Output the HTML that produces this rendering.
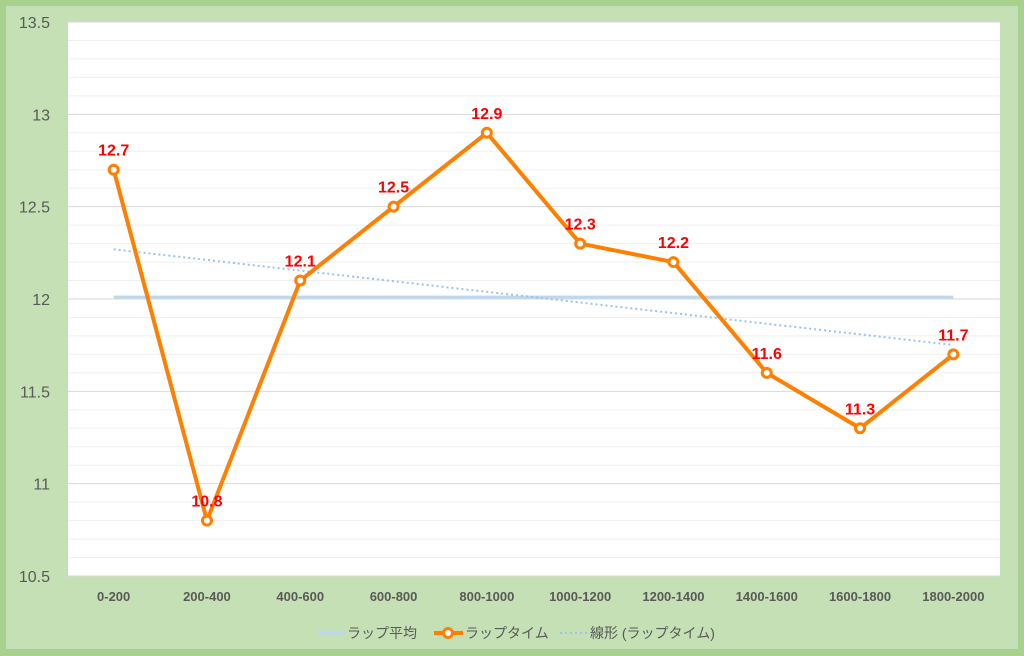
<!DOCTYPE html>
<html><head><meta charset="utf-8"><style>
html,body{margin:0;padding:0;width:1024px;height:656px;overflow:hidden;background:#a9d18e}
svg{display:block;font-family:"Liberation Sans","Noto Sans CJK JP",sans-serif}
</style></head><body>
<svg id="chart" width="1024" height="656">
<rect x="6" y="6" width="1012" height="643" fill="#c5e0b4"/>
<rect x="67" y="22" width="933" height="554" fill="#ffffff"/>
<g id="grid"></g><g id="yticks"></g><g id="xticks"></g><g id="series"></g>
<g>
<line x1="318" y1="633" x2="345" y2="633" stroke="#bdd7ee" stroke-width="3"/>
<text x="347" y="638" font-size="14" fill="#595959">ラップ平均</text>
<line x1="434" y1="633" x2="463" y2="633" stroke="#ff7f00" stroke-width="4"/>
<circle cx="448" cy="633" r="4.5" fill="#fff" stroke="#ff7f00" stroke-width="3"/>
<text x="465" y="638" font-size="14" fill="#595959">ラップタイム</text>
<line x1="560" y1="633" x2="588" y2="633" stroke="#9dc3e6" stroke-width="2" stroke-dasharray="2,3"/>
<text x="590" y="638" font-size="14" fill="#595959">線形 (ラップタイム)</text>
</g>
</svg>
<script>
const categories=["0-200","200-400","400-600","600-800","800-1000","1000-1200","1200-1400","1400-1600","1600-1800","1800-2000"];
const lapTimes=[12.7,10.8,12.1,12.5,12.9,12.3,12.2,11.6,11.3,11.7];
const yTicks=["10.5","11","11.5","12","12.5","13","13.5"];
const NS="http://www.w3.org/2000/svg";
const L=67,R=1000,T=22,B=576,ymin=10.5,ymax=13.5;
const bw=(R-L)/categories.length;
const xs=i=>L+bw*(i+0.5);
const ys=v=>B-(v-ymin)/(ymax-ymin)*(B-T);
function mk(tag,attrs,parent){const e=document.createElementNS(NS,tag);for(const k in attrs)e.setAttribute(k,attrs[k]);document.getElementById(parent).appendChild(e);return e;}
for(let k=0;k<=30;k++){const v=ymin+k*0.1;const g=mk('line',{x1:L,x2:R,y1:ys(v),y2:ys(v),stroke:k%5===0?'#d9d9d9':'#efefef','stroke-width':1},'grid');

}
const ax=mk('line',{x1:L+0.5,x2:L+0.5,y1:T,y2:B,stroke:'#bdd7ee','stroke-width':1},'grid');


yTicks.forEach(t=>{const e=mk('text',{x:50,y:ys(parseFloat(t))+6,'text-anchor':'end','font-size':16,fill:'#595959'},'yticks');e.textContent=t;

});
categories.forEach((c,i)=>{const e=mk('text',{x:xs(i),y:601,'text-anchor':'middle','font-size':13,'font-weight':'bold',fill:'#595959'},'xticks');e.textContent=c;

});
const n=lapTimes.length;const avg=lapTimes.reduce((a,b)=>a+b,0)/n;
const al=mk('line',{x1:xs(0),x2:xs(n-1),y1:ys(avg),y2:ys(avg),stroke:'#bdd7ee','stroke-width':3},'series');


let mx=(n-1)/2,sxy=0,sxx=0;lapTimes.forEach((v,i)=>{sxy+=(i-mx)*(v-avg);sxx+=(i-mx)*(i-mx);});
const sl=sxy/sxx;
const tl=mk('line',{x1:xs(0),x2:xs(n-1),y1:ys(avg-sl*mx),y2:ys(avg+sl*mx),stroke:'#9dc3e6','stroke-width':2,'stroke-dasharray':'2,3'},'series');


const pl=mk('polyline',{points:lapTimes.map((v,i)=>xs(i)+','+ys(v)).join(' '),fill:'none',stroke:'#ff7f00','stroke-width':4,'stroke-linejoin':'round'},'series');


lapTimes.forEach((v,i)=>{const c=mk('circle',{cx:xs(i),cy:ys(v),r:4.5,fill:'#fff',stroke:'#ff7f00','stroke-width':3},'series');


const t=mk('text',{x:xs(i),y:ys(v)-14,'text-anchor':'middle','font-size':16,'font-weight':'bold',fill:'#ff0000'},'series');t.textContent=v.toFixed(1);

});
</script>
</body></html>
